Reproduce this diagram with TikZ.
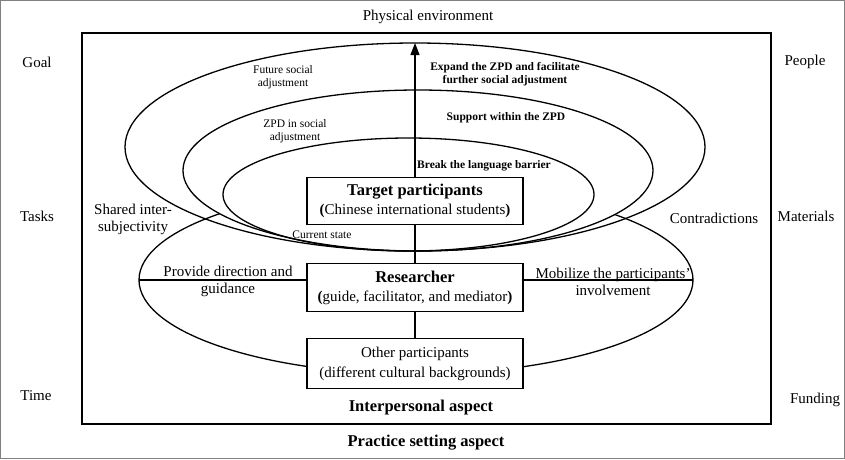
\documentclass[tikz,border=0pt]{standalone}
\usepackage{fontspec}
\setmainfont{Liberation Serif}
\usetikzlibrary{arrows.meta,positioning,shapes.geometric}
\newcommand\normsize{\fontsize{15}{17}\selectfont}
\newcommand\bigsize{\fontsize{16.5}{19}\selectfont}
\newcommand\notesize{\fontsize{11.5}{13}\selectfont}
\tikzset{%
   oval/.style={
      ellipse,
      draw,
      inner sep=0pt,
      outer sep=0pt,
      line width=1.3pt
   },
   box/.style={
      draw,
      fill=white,
      line width=1.2pt,
      inner sep=0pt,
      outer sep=0pt,
      minimum width=216pt,
      minimum height=48pt,
      align=center,
      font=\normsize
   },
   lbl/.style={
      font=\normsize,
      align=center,
      inner sep=0pt
   },
   blbl/.style={
      font=\bigsize\bfseries,
      inner sep=0pt
   },
   note/.style={
      font=\notesize,
      align=center,
      inner sep=0pt
   },
   bnote/.style={
      note,
      font=\notesize\bfseries
   },
   link/.style={
      line width=1.2pt
   },
}

\begin{document}
\begin{tikzpicture}[x=1pt, y=-1pt]
      \useasboundingbox (0,0) rectangle (845,459);
      \draw[gray, line width=1pt] (0.5,0.5) rectangle (844.5,458.5);
      \draw[line width=1.2pt] (82,33) rectangle (771,424);
      \node[oval, minimum width=554pt, minimum height=188pt] (lower) at (416,280) {};
      \node[oval, fill=white, minimum width=470pt, minimum height=161pt] (middle) at (418,170.5) {};
      \node[oval, minimum width=580pt, minimum height=208pt] (outer) at (415,147) {};
      \node[oval, minimum width=371pt, minimum height=113pt] (inner) at (408.5,194.5) {};
      \node[box] (res) at (415,287.5)
         {{\bigsize\bfseries Researcher}\\[2pt]\textbf{(}guide, facilitator, and mediator\textbf{)}};
      \node[box, above=39pt of res, minimum height=47pt] (tgt)
         {{\bigsize\bfseries Target participants}\\[2pt]\textbf{(}Chinese international students\textbf{)}};
      \node[box, below=27pt of res, minimum height=50pt] (oth)
         {Other participants\\[3pt](different cultural backgrounds)};
      \draw[link] (oth.north) -- (res.south);
      \draw[link] (res.north) -- (tgt.south);
      \draw[link, -{Triangle[length=12pt,width=9pt]}] (tgt.north) -- (outer.north);
      \draw[link] (lower.west) -- (lower.west -| res.west);
      \draw[link] (res.east |- lower.east) -- (lower.east);
      \node[lbl] (phys) at (428,17) {Physical environment};
      \node[lbl] (goal) at (37,62) {Goal};
      \node[lbl] (tasks) at (37,216) {Tasks};
      \node[lbl] (time) at (36,396) {Time};
      \node[lbl] (people) at (805,62) {People};
      \node[lbl] (mats) at (806,216) {Materials};
      \node[lbl] (fund) at (815,400) {Funding};
      \node[lbl] (shared) at (133,219) {Shared inter-\\subjectivity};
      \node[lbl] (contra) at (714,218) {Contradictions};
      \node[lbl] (direct) at (228,281.5) {Provide direction and\\guidance};
      \node[lbl] (mobil) at (613,282) {Mobilize the participants’\\involvement};
      \node[note] (future) at (283,77) {Future social\\adjustment};
      \node[note] (zpd) at (295,131) {ZPD in social\\adjustment};
      \node[note] (cur) at (322,235) {Current state};
      \node[bnote] (expand) at (505,74) {Expand the ZPD and facilitate\\further social adjustment};
      \node[bnote] (support) at (506,118) {Support within the ZPD};
      \node[bnote, anchor=west] (brk) at (417,166) {Break the language barrier};
      \node[blbl] (inter) at (421,408) {Interpersonal aspect};
      \node[blbl] (prac) at (426,443) {Practice setting aspect};
   \end{tikzpicture}
\end{document}
